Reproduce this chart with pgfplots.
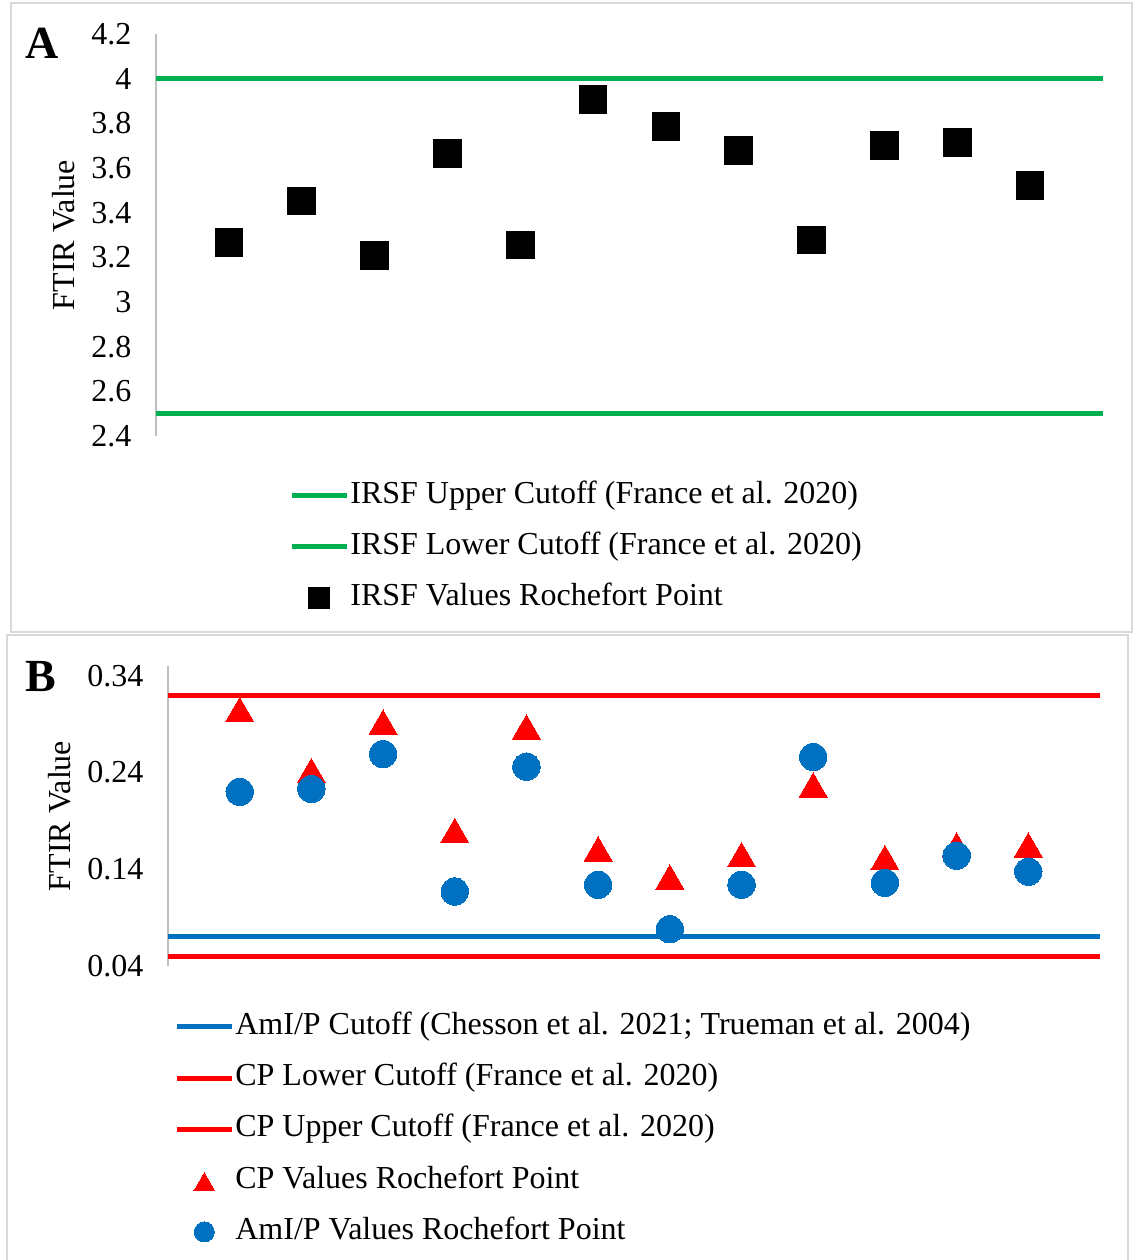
\documentclass[border=0pt]{standalone}
\usepackage{fontspec}
\setmainfont{Liberation Serif}
\usepackage{pgfplots}
\pgfplotsset{compat=1.18}
\definecolor{xlgreen}{HTML}{00B050}
\definecolor{xlred}{HTML}{FF0000}
\definecolor{xlblue}{HTML}{0070C0}
\definecolor{axisgray}{HTML}{BFBFBF}
\definecolor{framegray}{HTML}{D9D9D9}
\pgfplotsset{
  lineleg/.style={legend image code/.code={\draw[##1] (0pt,0pt) -- (27.5pt,0pt);}},
  markleg/.style={legend image code/.code={\path (0pt,0pt) (27.5pt,0pt);\draw[##1,mark size=#1] plot coordinates {(13.75pt,0pt)};}},
  common/.style={
    scale only axis,
    xmin=0, xmax=13,
    axis x line=none,
    axis y line=left,
    y axis line style={-, draw=axisgray, line width=1pt},
    major tick length=0pt,
    yticklabel shift=8.8pt,
    tick label style={font=\fontsize{16}{19.2}\selectfont},
    /pgf/number format/assume math mode=true,
    legend cell align=left,
    legend style={draw=none, fill=none, inner sep=0pt, column sep=0.5pt,
      nodes={inner sep=0pt, text height=13.44pt, text depth=5.76pt},
      font=\fontsize{16}{19.2}\selectfont},
  }
}
\begin{document}
\begin{tikzpicture}
\useasboundingbox (0pt,0pt) rectangle (566.5pt,-630pt);
\draw[framegray, line width=1pt] (5.5pt,-1.5pt) rectangle (565.85pt,-316pt);
\draw[framegray, line width=1pt] (3.5pt,-317.5pt) rectangle (563.85pt,-634pt);
\node[font=\fontsize{23}{27}\selectfont\bfseries] at (21pt,-21.5pt) {A};
\node[font=\fontsize{23}{27}\selectfont\bfseries] at (20.25pt,-338pt) {B};

\begin{axis}[common,
  at={(78pt,-218pt)}, anchor=south west,
  width=473.5pt, height=201pt,
  ymin=2.4, ymax=4.2,
  ytick={2.4,2.6,2.8,3,3.2,3.4,3.6,3.8,4,4.2},
  ylabel={FTIR Value},
  every axis y label/.style={at={(axis description cs:-0.0977,0.5)}, anchor=center, rotate=90, font=\fontsize{16}{19.2}\selectfont},
  legend style={at={(axis description cs:0.1404,-0.0998)}, anchor=north west, row sep=6.3pt},
]
\addplot[xlgreen, line width=2.5pt, lineleg] coordinates {(0,4) (13,4)};
\addlegendentry{IRSF Upper Cutoff (France et al. 2020)}
\addplot[xlgreen, line width=2.5pt, lineleg] coordinates {(0,2.5) (13,2.5)};
\addlegendentry{IRSF Lower Cutoff (France et al. 2020)}
\addplot[only marks, mark=square*, mark size=6.9pt, mark options={draw=black, fill=black, line width=0pt}, markleg=5.2pt] coordinates {
(1,3.267) (2,3.452) (3,3.208) (4,3.664) (5,3.256) (6,3.908)
(7,3.786) (8,3.679) (9,3.277) (10,3.702) (11,3.714) (12,3.521)};
\addlegendentry{IRSF Values Rochefort Point}
\end{axis}

\begin{axis}[common,
  at={(84pt,-483pt)}, anchor=south west,
  width=466pt, height=150pt,
  ymin=0.04, ymax=0.35,
  ytick={0.04,0.14,0.24,0.34},
  yticklabel style={/pgf/number format/.cd, fixed, fixed zerofill, precision=2},
  ylabel={FTIR Value},
  every axis y label/.style={at={(axis description cs:-0.1164,0.5)}, anchor=center, rotate=90, font=\fontsize{16}{19.2}\selectfont},
  legend style={at={(axis description cs:0.0064,-0.137)}, anchor=north west, row sep=6.45pt},
]
\addplot[xlblue, line width=2.5pt, lineleg] coordinates {(0,0.07) (13,0.07)};
\addlegendentry{AmI/P Cutoff (Chesson et al. 2021; Trueman et al. 2004)}
\addplot[xlred, line width=2.5pt, lineleg] coordinates {(0,0.05) (13,0.05)};
\addlegendentry{CP Lower Cutoff (France et al. 2020)}
\addplot[xlred, line width=2.5pt, lineleg] coordinates {(0,0.32) (13,0.32)};
\addlegendentry{CP Upper Cutoff (France et al. 2020)}
\addplot[only marks, mark=triangle*, mark size=8.1pt, mark options={draw=xlred, fill=xlred, line width=0pt, yshift=-2pt}, markleg=6pt] coordinates {
(1,0.305) (2,0.242) (3,0.292) (4,0.180) (5,0.287) (6,0.161)
(7,0.132) (8,0.155) (9,0.227) (10,0.152) (11,0.165) (12,0.165)};
\addlegendentry{CP Values Rochefort Point}
\addplot[only marks, mark=*, mark size=6.85pt, mark options={draw=xlblue, fill=xlblue, line width=0pt}, markleg=5pt] coordinates {
(1,0.220) (2,0.223) (3,0.259) (4,0.117) (5,0.246) (6,0.124)
(7,0.078) (8,0.124) (9,0.256) (10,0.126) (11,0.154) (12,0.1375)};
\addlegendentry{AmI/P Values Rochefort Point}
\end{axis}
\end{tikzpicture}
\end{document}
